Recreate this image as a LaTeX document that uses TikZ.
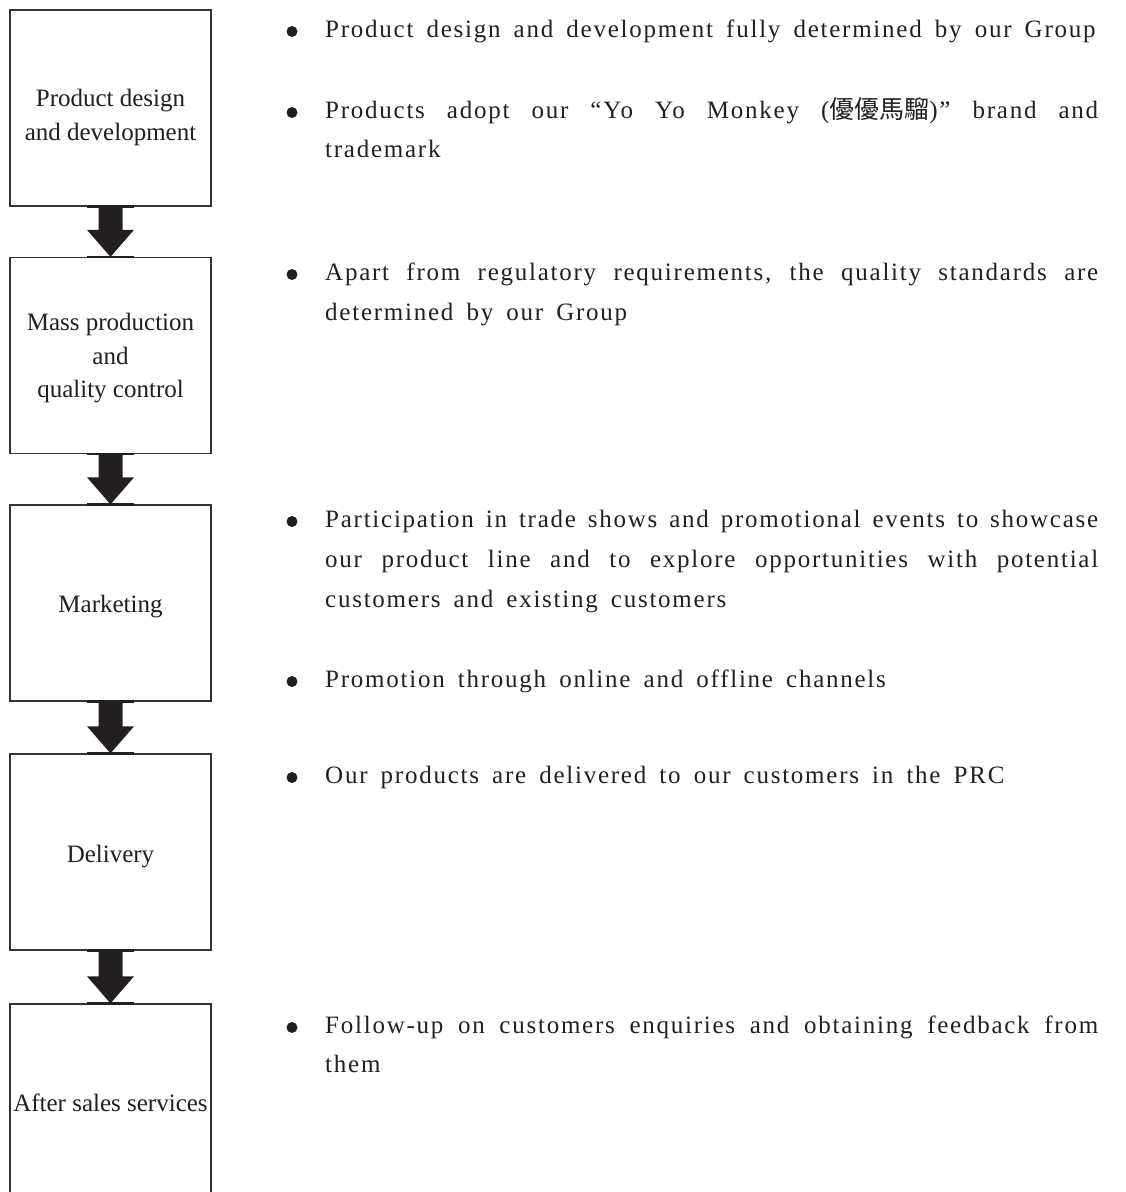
\documentclass[tikz,border=0pt]{standalone}
\usepackage{fontspec}
\setmainfont{Liberation Serif}
\newfontfamily\bodyfont[LetterSpace=7,WordSpace=1.64]{Liberation Serif}
\newfontfamily\cjkfont{Noto Sans CJK TC}
\usetikzlibrary{calc}
\definecolor{ink}{HTML}{231F20}
\definecolor{frame}{HTML}{333333}
\tikzset{
  stagebox/.style={draw=frame, line width=1.3pt, fill=white, inner sep=0pt,
    minimum width=201pt, minimum height=196pt},
  stagetext/.style={anchor=base, inner sep=0pt, text=ink,
    font=\fontsize{25}{34}\selectfont},
  note/.style={anchor=base west, inner sep=0pt, text=ink,
    font=\bodyfont\fontsize{25}{39}\selectfont},
  dot/.style={circle, fill=ink, inner sep=0pt, minimum size=11pt},
  arrowfill/.style={fill=ink},
  edgebar/.style={draw=ink, line width=2.6pt},
}
% block arrow from the bottom of one stage to the top of the next
\newcommand\flowarrow[2]{%
  \fill[arrowfill] ($(#1.south)+(-12,0)$) -- ($(#2.north)+(-12,27)$)
    -- ($(#2.north)+(-23.5,27)$) -- (#2.north) -- ($(#2.north)+(23.5,27)$)
    -- ($(#2.north)+(12,27)$) -- ($(#1.south)+(12,0)$) -- cycle;
  \draw[edgebar] ($(#1.south)+(-23.5,0)$) -- ($(#1.south)+(23.5,0)$);
  \draw[edgebar] ($(#2.north)+(-23.5,0)$) -- ($(#2.north)+(23.5,0)$);
}
\newcommand\fullline[1]{\makebox[773pt][s]{#1}}
\begin{document}
\begin{tikzpicture}[x=1pt,y=1pt]
\useasboundingbox (0,0) rectangle (1126,-1192);
\clip (0,0) rectangle (1126,-1192);

% stages
\node[stagebox] (s1) at (110.5,-108) {};
\node[stagebox] (s2) at (110.5,-355.5) {};
\node[stagebox] (s3) at (110.5,-603) {};
\node[stagebox] (s4) at (110.5,-852) {};
\node[stagebox] (s5) at (110.5,-1102) {};

\node[stagetext] (t1a) at (110.5,-106) {Product design};
\node[stagetext] (t1b) at (110.5,-140) {and development};
\node[stagetext] (t2a) at (110.5,-330) {Mass production};
\node[stagetext] (t2b) at (110.5,-364) {and};
\node[stagetext] (t2c) at (110.5,-397) {quality control};
\node[stagetext] (t3) at (110.5,-612) {Marketing};
\node[stagetext] (t4) at (110.5,-862) {Delivery};
\node[stagetext] (t5) at (110.5,-1111) {After sales services};

\flowarrow{s1}{s2}
\flowarrow{s2}{s3}
\flowarrow{s3}{s4}
\flowarrow{s4}{s5}

% descriptions
\node[dot] (d1) at (292,-31.5) {};
\node[note] (n1) at (325,-37) {Product design and development fully determined by our Group};

\node[dot] (d2) at (292,-112.5) {};
\node[note] (n2a) at (325,-118) {\fullline{Products adopt our “Yo Yo Monkey ({\cjkfont 優優馬騮})” brand and}};
\node[note] (n2b) at (325,-157) {trademark};

\node[dot] (d3) at (292,-274.5) {};
\node[note] (n3a) at (325,-280) {\fullline{Apart from regulatory requirements, the quality standards are}};
\node[note] (n3b) at (325,-320) {determined by our Group};

\node[dot] (d4) at (292,-521.5) {};
\node[note] (n4a) at (325,-527) {\fullline{Participation in trade shows and promotional events to showcase}};
\node[note] (n4b) at (325,-567) {\fullline{our product line and to explore opportunities with potential}};
\node[note] (n4c) at (325,-607) {customers and existing customers};

\node[dot] (d5) at (292,-681.5) {};
\node[note] (n5) at (325,-687) {Promotion through online and offline channels};

\node[dot] (d6) at (292,-777.5) {};
\node[note] (n6) at (325,-783) {Our products are delivered to our customers in the PRC};

\node[dot] (d7) at (292,-1027.5) {};
\node[note] (n7a) at (325,-1033) {\fullline{Follow-up on customers enquiries and obtaining feedback from}};
\node[note] (n7b) at (325,-1072) {them};
\end{tikzpicture}
\end{document}
